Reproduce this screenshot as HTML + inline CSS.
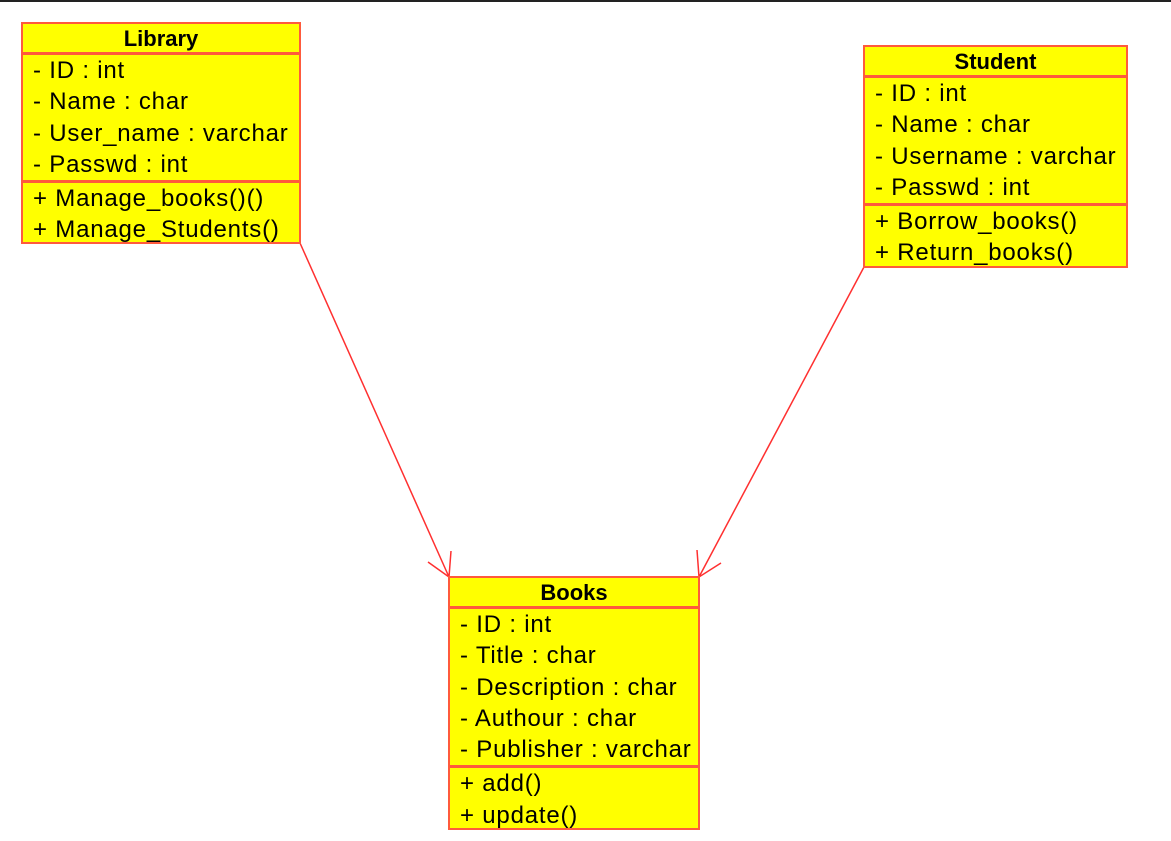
<!DOCTYPE html>
<html><head><style>
body{margin:0;width:1171px;height:841px;background:#fff;position:relative;overflow:hidden;font-family:"Liberation Sans",Arial,sans-serif;}
.top{position:absolute;left:0;top:0;width:1171px;height:2px;background:#222;}
.box{position:absolute;background:#ffff00;border:2px solid #ff5a3c;box-sizing:border-box;}
.h{height:31px;line-height:30px;text-align:center;font-weight:bold;font-size:22px;border-bottom:3px solid #ff5a3c;box-sizing:border-box;}
.sec{padding-left:10px;}
.sec div{height:31.3px;line-height:31px;font-size:24px;letter-spacing:0.8px;white-space:nowrap;}
.attr{border-bottom:3px solid #ff5a3c;}
svg{position:absolute;left:0;top:0;}
</style></head><body>
<div class="top"></div>
<svg width="1171" height="841">
<g stroke="#ff3030" stroke-width="1.5" fill="none">
<line x1="300" y1="243" x2="449" y2="577"/>
<polyline points="428,562 449,577 451,551"/>
<line x1="864" y1="267" x2="699" y2="577"/>
<polyline points="697,550 699,577 721,563"/>
</g>
</svg>
<div class="box" style="left:21px;top:22px;width:280px;height:222px;">
<div class="h">Library</div>
<div class="sec attr"><div>- ID : int</div><div>- Name : char</div><div>- User_name : varchar</div><div>- Passwd : int</div></div>
<div class="sec"><div>+ Manage_books()()</div><div>+ Manage_Students()</div></div>
</div>
<div class="box" style="left:863px;top:45px;width:265px;height:223px;">
<div class="h">Student</div>
<div class="sec attr"><div>- ID : int</div><div>- Name : char</div><div>- Username : varchar</div><div>- Passwd : int</div></div>
<div class="sec"><div>+ Borrow_books()</div><div>+ Return_books()</div></div>
</div>
<div class="box" style="left:448px;top:576px;width:252px;height:254px;">
<div class="h">Books</div>
<div class="sec attr"><div>- ID : int</div><div>- Title : char</div><div>- Description : char</div><div>- Authour : char</div><div>- Publisher : varchar</div></div>
<div class="sec"><div>+ add()</div><div>+ update()</div></div>
</div>
</body></html>
